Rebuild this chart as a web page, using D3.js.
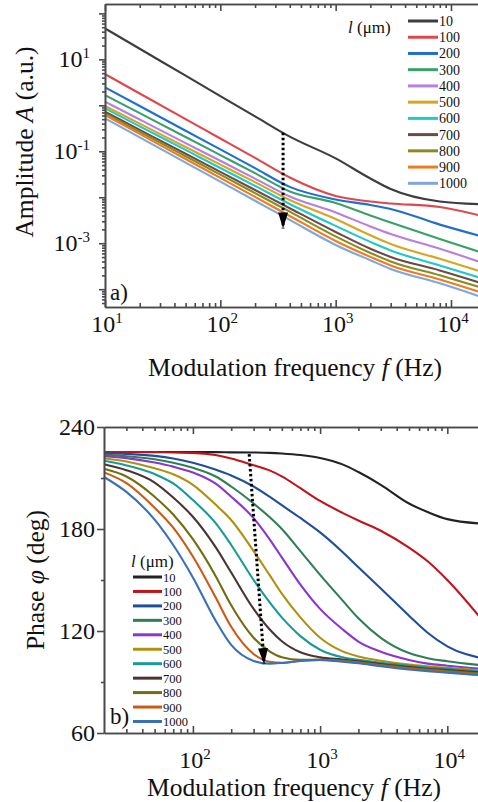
<!DOCTYPE html>
<html>
<head>
<meta charset="utf-8">
<script src="https://cdn.jsdelivr.net/npm/d3@7"></script>
<style>
  body { margin: 0; background: #fff; }
  svg { display: block; }
  text { font-family: "Liberation Serif", "Times New Roman", serif; fill: #111; }
</style>
</head>
<body>
<div id="chart"></div>
<script>
// thickness values l (um) for the 11 series
const thickness = ["10", "100", "200", "300", "400", "500", "600", "700", "800", "900", "1000"];

// panel a: amplitude vs modulation frequency
const freqA = [10, 20, 50, 100, 200, 400, 1000, 2000, 3000, 8000, 20000];
const amp10 = [47.2, 17.0, 4.42, 1.59, 0.574, 0.208, 0.070, 0.0256, 0.0151, 0.0081, 0.0070];
const amp100 = [4.79, 1.81, 0.501, 0.190, 0.0719, 0.0269, 0.0107, 0.0081, 0.00733, 0.00615, 0.00373];
const amp200 = [2.46, 0.966, 0.280, 0.110, 0.0431, 0.0168, 0.00896, 0.0068, 0.00557, 0.00254, 0.00134];
const amp300 = [1.67, 0.677, 0.205, 0.0827, 0.0334, 0.0134, 0.00752, 0.00402, 0.00283, 0.00124, 0.000585];
const amp400 = [1.20, 0.491, 0.151, 0.0621, 0.0255, 0.0104, 0.00467, 0.00232, 0.00159, 0.000759, 0.000355];
const amp500 = [0.966, 0.400, 0.124, 0.0514, 0.0213, 0.00873, 0.00337, 0.00149, 0.000966, 0.000460, 0.000226];
const amp600 = [0.861, 0.349, 0.107, 0.0434, 0.0177, 0.00715, 0.00238, 0.00107, 0.000697, 0.000329, 0.000163];
const amp700 = [0.726, 0.293, 0.0883, 0.0357, 0.0144, 0.00577, 0.00176, 0.00076, 0.000504, 0.000256, 0.000127];
const amp800 = [0.670, 0.265, 0.0782, 0.0311, 0.0123, 0.00486, 0.00141, 0.000615, 0.000402, 0.000200, 0.000102];
const amp900 = [0.615, 0.239, 0.0680, 0.0264, 0.0102, 0.00392, 0.00112, 0.000504, 0.000329, 0.000163, 0.0000791];
const amp1000 = [0.521, 0.200, 0.0568, 0.0218, 0.00839, 0.00321, 0.000918, 0.000425, 0.000276, 0.000134, 0.0000631];

// panel b: phase vs modulation frequency
const freqB = [20, 30, 50, 70, 100, 150, 200, 300, 400, 500, 700, 1000, 1500, 2000, 3000, 5000, 7000, 10000, 20000];
const phase10 = [225.3, 225.3, 225.3, 225.3, 225.2, 225.2, 225.1, 225.0, 224.8, 224.4, 223.5, 221.8, 218.0, 213.5, 206.0, 195.0, 190.0, 185.8, 183.0];
const phase100 = [225.3, 225.3, 225.2, 225.0, 224.8, 223.5, 221.5, 217.5, 214.5, 211.0, 204.0, 196.5, 189.5, 185.0, 179.0, 169.0, 161.0, 150.0, 124.0];
const phase200 = [224.6, 224.2, 223.0, 221.5, 219.0, 215.0, 211.5, 205.0, 199.0, 194.0, 186.5, 178.0, 166.5, 157.5, 145.0, 129.0, 119.0, 111.0, 103.5];
const phase300 = [223.6, 222.8, 221.0, 219.0, 216.0, 211.0, 205.0, 195.0, 187.0, 180.0, 167.0, 153.0, 138.0, 127.5, 116.0, 107.0, 104.0, 102.2, 99.6];
const phase400 = [222.8, 221.7, 219.1, 216.7, 213.2, 206.8, 199.0, 186.4, 174.1, 163.3, 147.3, 133.0, 121.0, 113.8, 107.8, 103.0, 100.8, 99.6, 97.6];
const phase500 = [221.6, 219.7, 215.7, 212.2, 206.0, 194.5, 185.3, 167.0, 153.0, 142.0, 128.0, 116.0, 108.0, 105.0, 102.5, 100.2, 99.2, 98.3, 96.6];
const phase600 = [220.1, 217.4, 212.3, 206.8, 197.0, 183.7, 170.6, 150.0, 137.0, 128.0, 117.0, 109.0, 104.5, 103.0, 101.3, 99.5, 98.5, 97.7, 96.0];
const phase700 = [218.1, 214.6, 207.3, 198.5, 187.2, 169.6, 154.4, 133.0, 121.0, 114.0, 107.5, 104.5, 103.2, 102.2, 100.6, 98.8, 97.8, 97.0, 95.4];
const phase800 = [215.4, 210.9, 199.0, 188.5, 174.0, 152.7, 135.1, 116.0, 108.0, 104.5, 103.0, 103.0, 102.5, 101.6, 100.0, 98.2, 97.3, 96.5, 94.8];
const phase900 = [213.3, 207.0, 192.5, 180.8, 163.8, 140.1, 122.5, 106.5, 101.9, 101.3, 102.4, 103.0, 102.3, 101.3, 99.7, 97.9, 96.9, 96.0, 94.3];
const phase1000 = [210.6, 201.8, 185.5, 170.6, 151.5, 126.4, 111.8, 102.4, 100.8, 101.2, 102.4, 103.0, 102.0, 101.0, 99.3, 97.4, 96.4, 95.5, 93.8];

// ticks
const ampMajor = [1e-4, 1e-3, 1e-2, 1e-1, 1, 10, 100];
const ampLabels = [1e-3, 1e-1, 10];
const freqLabelsA = [10, 100, 1000, 10000];
const freqLabelsB = [100, 1000, 10000];
const phaseLabels = [60, 120, 180, 240];
const phaseMinor = [90, 150, 210];

// dotted arrows (frequency, value)
const arrowA = [[350, 0.254], [350, 0.0021]];
const arrowB = [[277, 224.1], [363, 100.5]];

const colorsA = ["#3d3d3d", "#e0474c", "#1f6fd0", "#3aa06a", "#b77fe0", "#d9a521",
                 "#1fc9c9", "#6b4a4a", "#8a8a1f", "#f07b1f", "#80a6dc"];
const colorsB = ["#222222", "#c0141c", "#1f4f99", "#2f7f55", "#8a35d0", "#b0900e",
                 "#1a9999", "#4b3434", "#6f6f10", "#cc5a14", "#3a70b8"];

const ampSeries = [amp10, amp100, amp200, amp300, amp400, amp500, amp600, amp700, amp800, amp900, amp1000];
const phaseSeries = [phase10, phase100, phase200, phase300, phase400, phase500, phase600, phase700, phase800, phase900, phase1000];

const W = 478, H = 802;
const svg = d3.select("#chart").append("svg").attr("width", W).attr("height", H)
  .attr("font-family", "Liberation Serif, Times New Roman, serif");

const defs = svg.append("defs");
defs.append("marker")
  .attr("id", "head")
  .attr("markerUnits", "userSpaceOnUse")
  .attr("viewBox", "0 0 16 10")
  .attr("refX", 16).attr("refY", 5)
  .attr("markerWidth", 16).attr("markerHeight", 10)
  .attr("orient", "auto")
  .append("path").attr("d", "M0,0 L16,5 L0,10 Z").attr("fill", "#000");

// minor ticks for a log scale between given decades
function logMinor(lo, hi) {
  const out = [];
  for (let e = Math.floor(Math.log10(lo)); e <= Math.ceil(Math.log10(hi)); e++) {
    for (let m = 2; m <= 9; m++) {
      const v = m * Math.pow(10, e);
      if (v > lo && v < hi) out.push(v);
    }
  }
  return out;
}

function styleAxis(g) {
  g.selectAll("path, line").attr("stroke", "#4a4a4a").attr("stroke-width", 1.6);
  g.selectAll("text").remove();
}

function logLabel(g, x, y, v, anchor) {
  const t = g.append("text").attr("x", x).attr("y", y)
    .attr("text-anchor", anchor).attr("font-size", 24);
  t.append("tspan").text("10");
  t.append("tspan").attr("dy", -9).attr("font-size", 15)
    .text(String(Math.round(Math.log10(v))));
}

/* ---------------- panel a ---------------- */
const xA = d3.scaleLog().domain([10, 20000]).range([105, 485.7]);
const yA = d3.scaleLog().domain([4.1e-5, 160]).range([307, 4]);
const gA = svg.append("g");

const lineA = d3.line().x((d) => xA(d[0])).y((d) => yA(d[1])).curve(d3.curveMonotoneX);
gA.append("g").selectAll("path")
  .data(ampSeries)
  .join("path")
  .attr("d", (s) => lineA(freqA.map((f, i) => [f, s[i]])))
  .attr("fill", "none")
  .attr("stroke", (s, i) => colorsA[i])
  .attr("stroke-width", 2.1);

// axes
const fMinorA = logMinor(10, 20000);
gA.append("g").attr("transform", "translate(0,307)")
  .call(d3.axisBottom(xA).tickValues(freqLabelsA).tickSize(-7).tickSizeOuter(0)).call(styleAxis);
gA.append("g").attr("transform", "translate(0,307)")
  .call(d3.axisBottom(xA).tickValues(fMinorA).tickSize(-4).tickSizeOuter(0)).call(styleAxis);
gA.append("g").attr("transform", "translate(0,4)")
  .call(d3.axisTop(xA).tickValues(freqLabelsA).tickSize(-7).tickSizeOuter(0)).call(styleAxis);
gA.append("g").attr("transform", "translate(0,4)")
  .call(d3.axisTop(xA).tickValues(fMinorA).tickSize(-4).tickSizeOuter(0)).call(styleAxis);
gA.append("g").attr("transform", "translate(105,0)")
  .call(d3.axisLeft(yA).tickValues(ampMajor).tickSize(6).tickSizeOuter(0)).call(styleAxis);
gA.append("g").attr("transform", "translate(105,0)")
  .call(d3.axisLeft(yA).tickValues(logMinor(4.1e-5, 160)).tickSize(3).tickSizeOuter(0)).call(styleAxis);

freqLabelsA.forEach((v) => logLabel(gA, xA(v) + 2, 332, v, "middle"));
ampLabels.forEach((v) => logLabel(gA, 90, yA(v) + 8, v, "end"));

const titleA = gA.append("text").attr("transform", "translate(33,142) rotate(-90)")
  .attr("text-anchor", "middle").attr("font-size", 25.5);
titleA.append("tspan").text("Amplitude ");
titleA.append("tspan").attr("font-style", "italic").text("A");
titleA.append("tspan").text(" (a.u.)");

const xTitleA = gA.append("text").attr("x", 295).attr("y", 376)
  .attr("text-anchor", "middle").attr("font-size", 25.5);
xTitleA.append("tspan").text("Modulation frequency ");
xTitleA.append("tspan").attr("font-style", "italic").text("f");
xTitleA.append("tspan").text(" (Hz)");

gA.append("text").attr("x", 110).attr("y", 300).attr("font-size", 23).text("a)");

// legend a
const legA = gA.append("g");
const legHeadA = legA.append("text").attr("x", 348).attr("y", 33).attr("font-size", 17);
legHeadA.append("tspan").attr("font-style", "italic").text("l");
legHeadA.append("tspan").text(" (μm)");
thickness.forEach((t, i) => {
  const y = 21 + i * 16.23;
  legA.append("line").attr("x1", 408).attr("x2", 438).attr("y1", y).attr("y2", y)
    .attr("stroke", colorsA[i]).attr("stroke-width", 3);
  legA.append("text").attr("x", 439).attr("y", y + 5).attr("font-size", 14).text(t);
});

// arrow a
gA.append("path")
  .attr("d", d3.line().x((d) => xA(d[0])).y((d) => yA(d[1]))(arrowA))
  .attr("stroke", "#000").attr("stroke-width", 3).attr("stroke-dasharray", "2.5,2.5")
  .attr("fill", "none").attr("marker-end", "url(#head)");

/* ---------------- panel b ---------------- */
const xB = d3.scaleLog().domain([20, 20000]).range([104, 485.6]);
const yB = d3.scaleLinear().domain([60, 240]).range([733, 427]);
const gB = svg.append("g");

const lineB = d3.line().x((d) => xB(d[0])).y((d) => yB(d[1])).curve(d3.curveMonotoneX);
gB.append("g").selectAll("path")
  .data(phaseSeries)
  .join("path")
  .attr("d", (s) => lineB(freqB.map((f, i) => [f, s[i]])))
  .attr("fill", "none")
  .attr("stroke", (s, i) => colorsB[i])
  .attr("stroke-width", 2.1);

const fMinorB = logMinor(20, 20000);
gB.append("g").attr("transform", "translate(0,733)")
  .call(d3.axisBottom(xB).tickValues(freqLabelsB).tickSize(-7).tickSizeOuter(0)).call(styleAxis);
gB.append("g").attr("transform", "translate(0,733)")
  .call(d3.axisBottom(xB).tickValues(fMinorB).tickSize(-4).tickSizeOuter(0)).call(styleAxis);
gB.append("g").attr("transform", "translate(0,427)")
  .call(d3.axisTop(xB).tickValues(freqLabelsB).tickSize(-7).tickSizeOuter(0)).call(styleAxis);
gB.append("g").attr("transform", "translate(0,427)")
  .call(d3.axisTop(xB).tickValues(fMinorB).tickSize(-4).tickSizeOuter(0)).call(styleAxis);
gB.append("g").attr("transform", "translate(104,0)")
  .call(d3.axisLeft(yB).tickValues(phaseLabels).tickSize(7).tickSizeOuter(0)).call(styleAxis);
gB.append("g").attr("transform", "translate(104,0)")
  .call(d3.axisLeft(yB).tickValues(phaseMinor).tickSize(3).tickSizeOuter(0)).call(styleAxis);

freqLabelsB.forEach((v) => logLabel(gB, xB(v) + 2, 768, v, "middle"));
phaseLabels.forEach((v) => {
  gB.append("text").attr("x", 95).attr("y", yB(v) + 8)
    .attr("text-anchor", "end").attr("font-size", 24).text(v);
});

const titleB = gB.append("text").attr("transform", "translate(44,580) rotate(-90)")
  .attr("text-anchor", "middle").attr("font-size", 25.5);
titleB.append("tspan").text("Phase ");
titleB.append("tspan").attr("font-style", "italic").text("φ");
titleB.append("tspan").text(" (deg)");

const xTitleB = gB.append("text").attr("x", 294).attr("y", 796)
  .attr("text-anchor", "middle").attr("font-size", 25.5);
xTitleB.append("tspan").text("Modulation frequency ");
xTitleB.append("tspan").attr("font-style", "italic").text("f");
xTitleB.append("tspan").text(" (Hz)");

gB.append("text").attr("x", 110).attr("y", 724).attr("font-size", 23).text("b)");

// legend b
const legB = gB.append("g");
const legHeadB = legB.append("text").attr("x", 131).attr("y", 567).attr("font-size", 17);
legHeadB.append("tspan").attr("font-style", "italic").text("l");
legHeadB.append("tspan").text(" (μm)");
thickness.forEach((t, i) => {
  const y = 577 + i * 14.45;
  legB.append("line").attr("x1", 133).attr("x2", 162).attr("y1", y).attr("y2", y)
    .attr("stroke", colorsB[i]).attr("stroke-width", 3);
  legB.append("text").attr("x", 163).attr("y", y + 4.5).attr("font-size", 12.5).text(t);
});

// arrow b
gB.append("path")
  .attr("d", d3.line().x((d) => xB(d[0])).y((d) => yB(d[1]))(arrowB))
  .attr("stroke", "#000").attr("stroke-width", 3).attr("stroke-dasharray", "2.5,2.5")
  .attr("fill", "none").attr("marker-end", "url(#head)");
</script>
</body>
</html>
